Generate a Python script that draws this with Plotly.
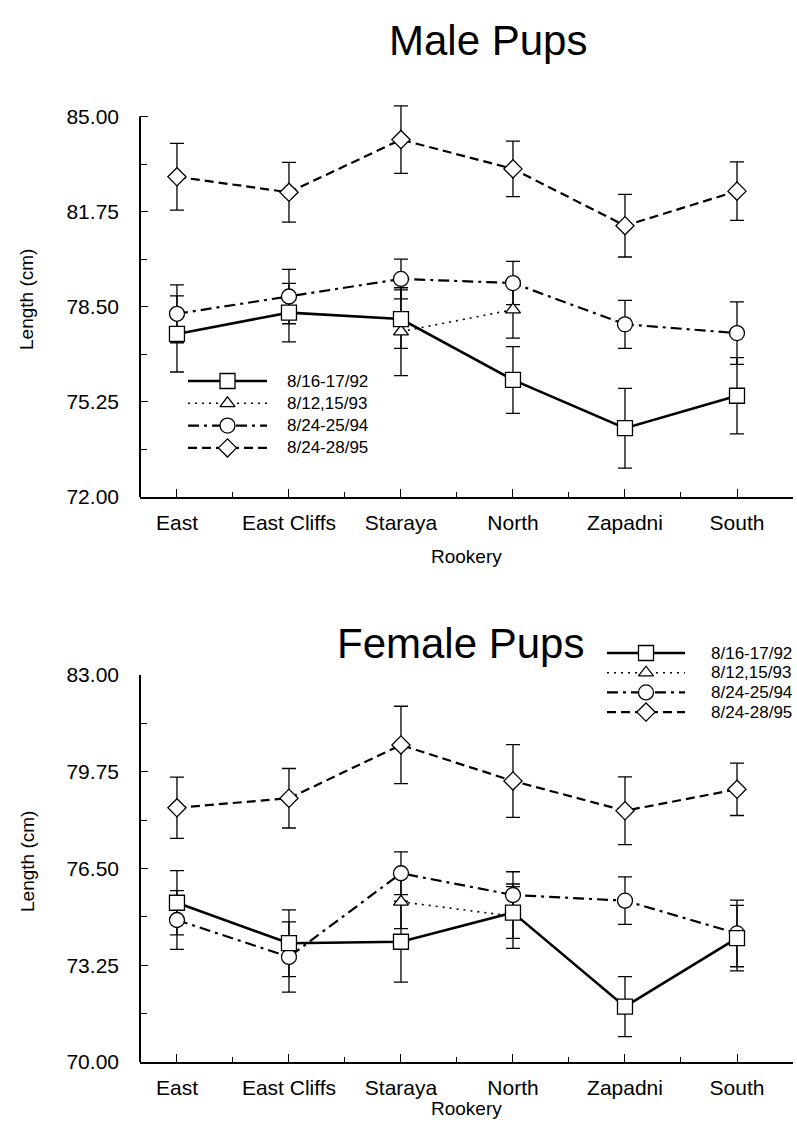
import plotly.graph_objects as go

# Rookery sites along the x axis
rookeries = ["East", "East Cliffs", "Staraya", "North", "Zapadni", "South"]
surveys = ["8/16-17/92", "8/12,15/93", "8/24-25/94", "8/24-28/95"]

# Male pup mean length (cm) and standard error, per survey
male_92 = [77.57, 78.30, 78.08, 76.00, 74.35, 75.46]
male_92_se = [1.30, 1.00, 1.00, 1.14, 1.36, 1.30]
male_93 = [None, None, 77.65, 78.40, None, None]
male_93_se = [0, 0, 1.50, 0.97, 0, 0]
male_94 = [78.26, 78.85, 79.45, 79.31, 77.90, 77.60]
male_94_se = [0.99, 0.93, 0.68, 0.74, 0.82, 1.07]
male_95 = [82.94, 82.41, 84.21, 83.21, 81.27, 82.45]
male_95_se = [1.14, 1.02, 1.15, 0.95, 1.07, 1.00]

# Female pup mean length (cm) and standard error, per survey
female_92 = [75.35, 73.99, 74.04, 75.02, 71.86, 74.16]
female_92_se = [1.08, 1.12, 1.36, 0.87, 1.01, 1.10]
female_93 = [None, None, 75.38, 74.90, None, None]
female_93_se = [0, 0, 0.90, 1.08, 0, 0]
female_94 = [74.77, 73.53, 76.34, 75.61, 75.42, 74.32]
female_94_se = [0.99, 1.18, 0.72, 0.78, 0.80, 1.12]
female_95 = [78.54, 78.86, 80.65, 79.44, 78.44, 79.16]
female_95_se = [1.03, 1.00, 1.30, 1.22, 1.14, 0.88]

male_ticks = [72.00, 75.25, 78.50, 81.75, 85.00]
female_ticks = [70.00, 73.25, 76.50, 79.75, 83.00]

FONT = "Liberation Sans, Arial, sans-serif"
W, H = 797, 1125

styles = [
    dict(dash="solid", width=2.6, symbol="square", size=15),
    dict(dash="2px,5px", width=1.6, symbol="triangle-up", size=13),
    dict(dash="11px,5px,3px,5px", width=2.2, symbol="circle", size=15),
    dict(dash="9px,5px", width=2.2, symbol="diamond", size=14),
]

male = [(male_92, male_92_se), (male_93, male_93_se), (male_94, male_94_se), (male_95, male_95_se)]
female = [(female_92, female_92_se), (female_93, female_93_se), (female_94, female_94_se),
          (female_95, female_95_se)]

xs = list(range(len(rookeries)))

fig = go.Figure()


def marker_style(st, size=None, lw=1.3):
    return dict(symbol=st["symbol"], size=st["size"] if size is None else size, color="white",
                line=dict(color="black", width=lw))


def add_series(series, xa, ya):
    # lines and error bars first
    for i in reversed(range(len(series))):
        vals, se = series[i]
        st = styles[i]
        fig.add_trace(go.Scatter(
            x=xs, y=vals, xaxis=xa, yaxis=ya, mode="lines",
            name=surveys[i], showlegend=False, cliponaxis=False,
            line=dict(color="black", width=st["width"], dash=st["dash"]),
            error_y=dict(type="data", array=se, color="black", thickness=1.3, width=7),
        ))
    # open symbols on top of every line
    for i in reversed(range(len(series))):
        vals, se = series[i]
        fig.add_trace(go.Scatter(
            x=xs, y=vals, xaxis=xa, yaxis=ya, mode="markers",
            name=surveys[i], showlegend=False, cliponaxis=False,
            marker=marker_style(styles[i]),
        ))


add_series(male, "x", "y")
add_series(female, "x2", "y2")


# legend keys drawn on small helper axes
def add_key(xa, ya):
    for i, st in enumerate(styles):
        fig.add_trace(go.Scatter(
            x=[0, 1], y=[i, i], xaxis=xa, yaxis=ya, mode="lines",
            showlegend=False, hoverinfo="skip", cliponaxis=False,
            line=dict(color="black", width=st["width"], dash=st["dash"]),
        ))
    for i, st in enumerate(styles):
        fig.add_trace(go.Scatter(
            x=[0.5], y=[i], xaxis=xa, yaxis=ya, mode="markers",
            showlegend=False, hoverinfo="skip", cliponaxis=False,
            marker=marker_style(st),
        ))


add_key("x3", "y3")
add_key("x4", "y4")


def px_x(p):
    return p / W


def px_y(p):
    return 1 - p / H


xdom = [px_x(140), px_x(793)]
axis_common = dict(
    showline=True, linecolor="black", linewidth=2, ticks="inside", ticklen=8,
    tickcolor="black", tickwidth=1.3, showgrid=False, zeroline=False, automargin=False,
    tickfont=dict(family=FONT, size=21, color="black"),
)

x_common = dict(axis_common, range=[-0.33, 5.5], tickvals=xs, ticktext=rookeries,
                ticklabelstandoff=6,
                minor=dict(tickvals=[0.5, 1.5, 2.5, 3.5, 4.5], ticks="inside", ticklen=5,
                           tickcolor="black", tickwidth=1.2))

male_px = (497 - 116.5) / 13.0
male_top = 85.6
fig.update_layout(
    width=W, height=H, autosize=False,
    margin=dict(l=0, r=0, t=0, b=0, pad=0, autoexpand=False),
    paper_bgcolor="white", plot_bgcolor="white",
    font=dict(family=FONT, color="black"),
    xaxis=dict(x_common, domain=xdom, anchor="y"),
    yaxis=dict(axis_common, showline=False, domain=[px_y(497), px_y(116.5 - (male_top - 85) * male_px)],
               range=[72, male_top], tickvals=male_ticks, tickformat=".2f", anchor="x",
               ticklabelstandoff=20,
               minor=dict(tickvals=[73.625, 76.875, 80.125, 83.375], ticks="inside", ticklen=7,
                          tickcolor="black", tickwidth=1.2)),
    xaxis2=dict(x_common, domain=xdom, anchor="y2"),
    yaxis2=dict(axis_common, showline=False, domain=[px_y(1062), px_y(675)], range=[70, 83],
                tickvals=female_ticks, tickformat=".2f", anchor="x2", ticklabelstandoff=20,
                minor=dict(tickvals=[71.625, 74.875, 78.125, 81.375], ticks="inside", ticklen=7,
                           tickcolor="black", tickwidth=1.2)),
    xaxis3=dict(domain=[px_x(188), px_x(267)], range=[0, 1], visible=False, anchor="y3"),
    yaxis3=dict(domain=[px_y(381 + 22.3 * 3.5), px_y(381 - 22.3 * 0.5)], range=[3.5, -0.5],
                visible=False, anchor="x3"),
    xaxis4=dict(domain=[px_x(607), px_x(685)], range=[0, 1], visible=False, anchor="y4"),
    yaxis4=dict(domain=[px_y(653 + 19.7 * 3.5), px_y(653 - 19.7 * 0.5)], range=[3.5, -0.5],
                visible=False, anchor="x4"),
)

# vertical axis lines end at the top tick value
fig.add_shape(type="line", xref="x domain", yref="y", x0=0, x1=0, y0=72, y1=85,
              line=dict(color="black", width=2))
fig.add_shape(type="line", xref="x2 domain", yref="y2", x0=0, x1=0, y0=70, y1=83,
              line=dict(color="black", width=2))


def label(text, x, y, size, xanchor="center", angle=0):
    return dict(text=text, x=px_x(x), y=px_y(y), xref="paper", yref="paper",
                xanchor=xanchor, yanchor="middle", showarrow=False, textangle=angle,
                font=dict(family=FONT, size=size, color="black"))


ann = [label("Male Pups", 488, 40, 42), label("Female Pups", 460, 643, 42)]
for yc in (556, 1108):
    ann.append(label("Rookery", 466, yc, 19))
for yc in (300, 862):
    ann.append(label("Length (cm)", 27, yc, 19, angle=-90))
for i, s in enumerate(surveys):
    ann.append(label(s, 285, 381 + 22.3 * i, 17, xanchor="left"))
    ann.append(label(s, 709, 653 + 19.7 * i, 17, xanchor="left"))
fig.update_layout(annotations=ann)

fig.write_html("out.html")
